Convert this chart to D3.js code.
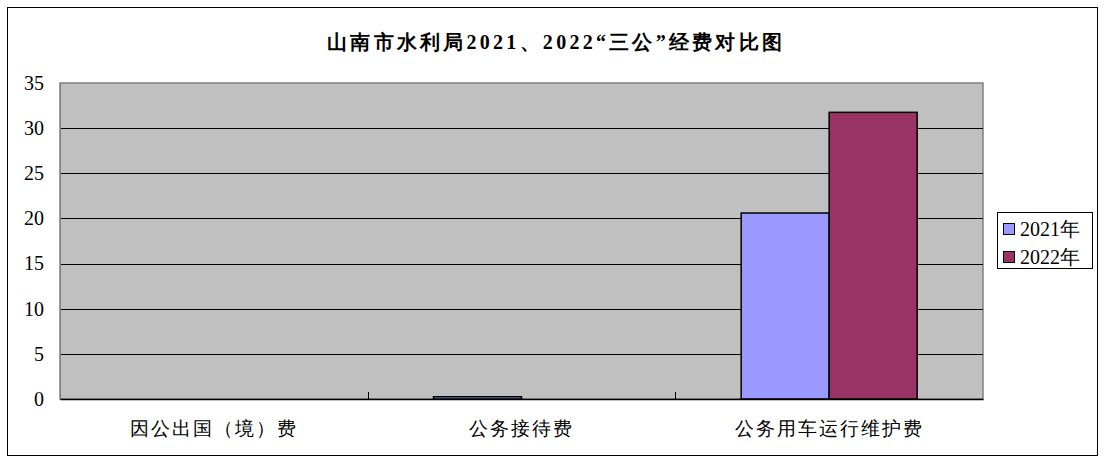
<!DOCTYPE html>
<html><head><meta charset="utf-8">
<script src="https://cdn.jsdelivr.net/npm/d3@7/dist/d3.min.js"></script>
<style>
body{margin:0;background:#fff;}
svg{display:block;}
</style></head>
<body>
<svg id="chart" width="1106" height="463"></svg>
<script>
const categories = ["因公出国（境）费", "公务接待费", "公务用车运行维护费"];
const seriesNames = ["2021年", "2022年"];
const values2021 = [0, 0.25, 20.6];
const values2022 = [0, 0, 31.75];
const colors = ["#9999FF", "#993366"];
const yTicks = [0, 5, 10, 15, 20, 25, 30, 35];
const title = "山南市水利局2021、2022“三公”经费对比图";

const FONT = "'Liberation Serif'";
const svg = d3.select("#chart");
const plot = {left: 60, right: 983, top: 83, bottom: 399};

// outer border
svg.append("rect").attr("x", 7.5).attr("y", 7.5).attr("width", 1090).attr("height", 448)
  .attr("fill", "#fff").attr("stroke", "#000").attr("stroke-width", 1);

// title
svg.append("text").attr("x", 327).attr("y", 49)
  .attr("textLength", 455).attr("lengthAdjust", "spacing")
  .style("font-family", FONT).style("font-size", "20px").style("font-weight", "bold")
  .attr("fill", "#000").text(title);

const x = d3.scaleBand().domain(categories).range([plot.left, plot.right])
  .paddingInner(0.428).paddingOuter(0.214);
const xs = d3.scaleBand().domain(seriesNames).range([0, x.bandwidth()]);
const y = d3.scaleLinear().domain([0, 35]).range([plot.bottom, plot.top]);

// plot background
svg.append("rect").attr("x", plot.left).attr("y", plot.top)
  .attr("width", plot.right - plot.left).attr("height", plot.bottom - plot.top)
  .attr("fill", "#C0C0C0").attr("stroke", "#808080").attr("stroke-width", 1.5);

// gridlines
svg.append("g").selectAll("line").data(yTicks.filter(d => d > 0 && d < 35)).join("line")
  .attr("x1", plot.left).attr("x2", plot.right)
  .attr("y1", d => Math.round(y(d)) + 0.5).attr("y2", d => Math.round(y(d)) + 0.5)
  .attr("stroke", "#000").attr("stroke-width", 1);

// bars
const rows = categories.map((c, i) => ({cat: c, vals: [values2021[i], values2022[i]]}));
const groups = svg.append("g").selectAll("g").data(rows).join("g")
  .attr("transform", d => `translate(${x(d.cat)},0)`);
groups.selectAll("rect").data(d => d.vals.map((v, j) => ({v, s: seriesNames[j], j})))
  .join("rect")
  .filter(d => d.v > 0)
  .attr("x", d => xs(d.s)).attr("width", xs.bandwidth())
  .attr("y", d => y(d.v)).attr("height", d => y(0) - y(d.v))
  .attr("fill", d => colors[d.j]).attr("stroke", "#000").attr("stroke-width", 1.5);

// y axis
const yAxis = d3.axisLeft(y).tickValues(yTicks).tickSize(0).tickPadding(16);
const ya = svg.append("g").attr("transform", `translate(${plot.left},0)`).call(yAxis);
ya.attr("font-family", null).attr("font-size", null);
ya.select(".domain").attr("stroke", "#808080");
ya.selectAll("text").style("font-family", FONT).style("font-size", "20px").attr("fill", "#000");

// x axis
const xAxis = d3.axisBottom(x).tickSize(0).tickPadding(23);
const xa = svg.append("g").attr("transform", `translate(0,${plot.bottom})`).call(xAxis);
xa.attr("font-family", null).attr("font-size", null);
xa.select(".domain").attr("stroke", "#000").attr("stroke-width", 1.5);
xa.selectAll("text").style("font-family", FONT).style("font-size", "19px")
  .style("letter-spacing", "2px").attr("fill", "#000");
// category separator ticks (inward)
const seps = categories.slice(1).map(c => x(c) - x.step() * x.paddingInner() / 2);
svg.append("g").selectAll("line").data(seps).join("line")
  .attr("x1", d => Math.round(d) + 0.5).attr("x2", d => Math.round(d) + 0.5)
  .attr("y1", plot.bottom).attr("y2", plot.bottom - 7)
  .attr("stroke", "#000").attr("stroke-width", 1);

// legend
const lg = svg.append("g");
lg.append("rect").attr("x", 997.5).attr("y", 212.5).attr("width", 95).attr("height", 56)
  .attr("fill", "#fff").attr("stroke", "#000").attr("stroke-width", 1);
const items = lg.selectAll("g").data(seriesNames).join("g")
  .attr("transform", (d, i) => `translate(1003,${223 + i * 28})`);
items.append("rect").attr("x", 0.5).attr("y", 0.5).attr("width", 11).attr("height", 11)
  .attr("fill", (d, i) => colors[i]).attr("stroke", "#000").attr("stroke-width", 1);
items.append("text").attr("x", 17).attr("y", 13)
  .style("font-family", FONT).style("font-size", "20px").attr("fill", "#000")
  .text(d => d);
</script>
</body></html>
